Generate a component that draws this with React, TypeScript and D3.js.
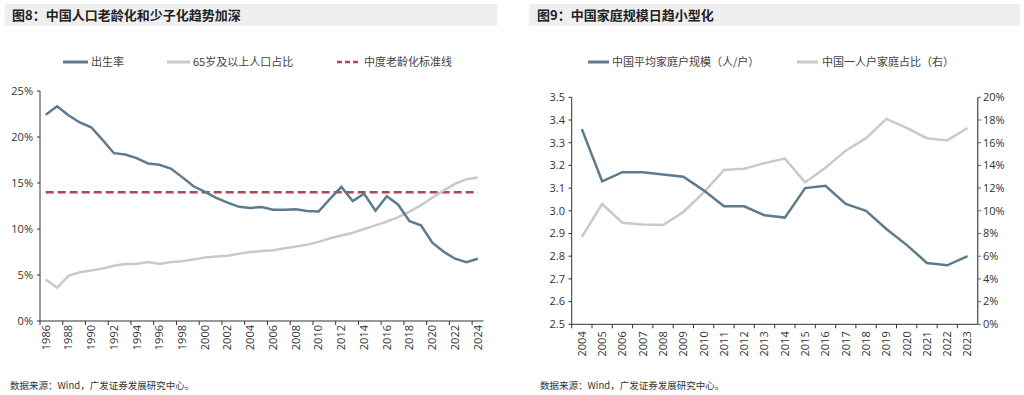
import React from "react";
import * as d3 from "d3";

// 图8 data
const years8 = [
  1986, 1987, 1988, 1989, 1990, 1991, 1992, 1993, 1994, 1995, 1996, 1997, 1998,
  1999, 2000, 2001, 2002, 2003, 2004, 2005, 2006, 2007, 2008, 2009, 2010, 2011,
  2012, 2013, 2014, 2015, 2016, 2017, 2018, 2019, 2020, 2021, 2022, 2023, 2024,
];
const birthRate = [
  22.43, 23.33, 22.37, 21.58, 21.06, 19.68, 18.24, 18.09, 17.7, 17.12, 16.98,
  16.57, 15.64, 14.64, 14.03, 13.38, 12.86, 12.41, 12.29, 12.4, 12.09, 12.1,
  12.14, 11.95, 11.9, 13.27, 14.57, 13.03, 13.83, 11.99, 13.57, 12.64, 10.86,
  10.41, 8.52, 7.52, 6.77, 6.39, 6.77,
];
const aged65 = [
  4.5, 3.6, 4.9, 5.3, 5.5, 5.7, 6.0, 6.2, 6.2, 6.4, 6.2, 6.4, 6.5, 6.7, 6.9,
  7.0, 7.1, 7.3, 7.5, 7.6, 7.7, 7.9, 8.1, 8.3, 8.6, 9.0, 9.3, 9.6, 10.0, 10.4,
  10.8, 11.3, 11.9, 12.6, 13.4, 14.2, 14.9, 15.4, 15.6,
];
const moderateAgingLine = 14;
const yTicks8 = [0, 5, 10, 15, 20, 25];

// 图9 data
const years9 = [
  2004, 2005, 2006, 2007, 2008, 2009, 2010, 2011, 2012, 2013, 2014, 2015, 2016,
  2017, 2018, 2019, 2020, 2021, 2022, 2023,
];
const householdSize = [
  3.36, 3.13, 3.17, 3.17, 3.16, 3.15, 3.09, 3.02, 3.02, 2.98, 2.97, 3.1, 3.11,
  3.03, 3.0, 2.92, 2.85, 2.77, 2.76, 2.8,
];
const singleShare = [
  7.7, 10.6, 8.95, 8.8, 8.75, 9.9, 11.6, 13.6, 13.7, 14.2, 14.6, 12.5, 13.8,
  15.3, 16.4, 18.1, 17.3, 16.4, 16.2, 17.3,
];
const leftTicks9 = [2.5, 2.6, 2.7, 2.8, 2.9, 3.0, 3.1, 3.2, 3.3, 3.4, 3.5];
const rightTicks9 = [0, 2, 4, 6, 8, 10, 12, 14, 16, 18, 20];

const BLUE = "#5E7B8E";
const GRAY = "#C9C9C9";
const RED = "#AE4656";
const AXIS = "#333";
const FONT = "'Open Sans', 'Noto Sans CJK SC', sans-serif";
const CJK = "'Noto Sans CJK SC', sans-serif";

const Chart8 = () => {
  const x = d3.scaleBand<number>().domain(years8).range([40, 483.5]);
  const y = d3.scaleLinear().domain([0, 25]).range([321, 91]);
  const cx = (d: number) => (x(d) ?? 0) + x.bandwidth() / 2;
  const line = d3
    .line<number>()
    .x((_, i) => cx(years8[i]))
    .y((d) => y(d));

  return (
    <g>
      <rect x={5} y={4} width={492} height={22} fill="#EFEFEF" />
      <text x={12} y={20} fontFamily={CJK} fontSize={13} fontWeight="bold" fill="#222">
        图8：中国人口老龄化和少子化趋势加深
      </text>

      {/* legend */}
      <g fontFamily={CJK} fontSize={11} fill="#444">
        <line x1={63} x2={88} y1={62} y2={62} stroke={BLUE} strokeWidth={3} />
        <text x={91} y={66}>出生率</text>
        <line x1={167} x2={190} y1={62} y2={62} stroke={GRAY} strokeWidth={3} />
        <text x={193} y={66}>65岁及以上人口占比</text>
        <line x1={337} x2={360} y1={62} y2={62} stroke={RED} strokeWidth={2.5} strokeDasharray="5 3" />
        <text x={364} y={66}>中度老龄化标准线</text>
      </g>

      {/* y axis */}
      <line x1={40} x2={40} y1={y(25)} y2={y(0)} stroke={AXIS} />
      {yTicks8.map((t) => (
        <g key={t}>
          <line x1={37} x2={40} y1={y(t)} y2={y(t)} stroke={AXIS} />
          <text x={33} y={y(t)} dy="0.35em" textAnchor="end" fontFamily={FONT} fontSize={11} fill="#333">
            {t}%
          </text>
        </g>
      ))}

      {/* x axis */}
      <line x1={40} x2={483.5} y1={y(0)} y2={y(0)} stroke={AXIS} />
      {years8.map((d, i) =>
        i % 2 === 0 ? (
          <g key={d}>
            <line x1={x(d)} x2={x(d)} y1={y(0)} y2={y(0) + 4} stroke={AXIS} />
            <text
              transform={`translate(${cx(d)},${y(0) + 4}) rotate(-90)`}
              dy="0.35em"
              textAnchor="end"
              fontFamily={FONT}
              fontSize={11}
              fill="#333"
            >
              {d}
            </text>
          </g>
        ) : null
      )}

      <line
        x1={cx(years8[0])}
        x2={cx(years8[years8.length - 1])}
        y1={y(moderateAgingLine)}
        y2={y(moderateAgingLine)}
        stroke={RED}
        strokeWidth={2.5}
        strokeDasharray="8 4"
      />
      <path d={line(aged65) ?? ""} fill="none" stroke={GRAY} strokeWidth={2.5} />
      <path d={line(birthRate) ?? ""} fill="none" stroke={BLUE} strokeWidth={2.5} />

      <text x={10} y={389} fontFamily={CJK} fontSize={9.5} fill="#333">
        数据来源：Wind，广发证券发展研究中心。
      </text>
    </g>
  );
};

const Chart9 = () => {
  const x = d3.scaleBand<number>().domain(years9).range([571.7, 977.7]);
  const yL = d3.scaleLinear().domain([2.5, 3.5]).range([324.3, 97.3]);
  const yR = d3.scaleLinear().domain([0, 20]).range([324.3, 97.3]);
  const cx = (d: number) => (x(d) ?? 0) + x.bandwidth() / 2;
  const lineL = d3
    .line<number>()
    .x((_, i) => cx(years9[i]))
    .y((d) => yL(d));
  const lineR = d3
    .line<number>()
    .x((_, i) => cx(years9[i]))
    .y((d) => yR(d));

  return (
    <g>
      <rect x={529} y={4} width={491} height={22} fill="#EFEFEF" />
      <text x={537} y={20} fontFamily={CJK} fontSize={13} fontWeight="bold" fill="#222">
        图9：中国家庭规模日趋小型化
      </text>

      <g fontFamily={CJK} fontSize={11} fill="#444">
        <line x1={588} x2={609} y1={62} y2={62} stroke={BLUE} strokeWidth={3} />
        <text x={612} y={66}>中国平均家庭户规模（人/户）</text>
        <line x1={797} x2={818} y1={62} y2={62} stroke={GRAY} strokeWidth={3} />
        <text x={822} y={66}>中国一人户家庭占比（右）</text>
      </g>

      {/* left axis */}
      <line x1={571.7} x2={571.7} y1={yL(3.5)} y2={yL(2.5)} stroke={AXIS} />
      {leftTicks9.map((t) => (
        <g key={t}>
          <line x1={568.5} x2={571.7} y1={yL(t)} y2={yL(t)} stroke={AXIS} />
          <text x={565} y={yL(t)} dy="0.35em" textAnchor="end" fontFamily={FONT} fontSize={11} fill="#333">
            {t.toFixed(1)}
          </text>
        </g>
      ))}

      {/* right axis */}
      <line x1={977.7} x2={977.7} y1={yR(20)} y2={yR(0)} stroke="#666" strokeWidth={1.5} />
      {rightTicks9.map((t) => (
        <g key={t}>
          <line x1={977.7} x2={981} y1={yR(t)} y2={yR(t)} stroke="#666" />
          <text x={983} y={yR(t)} dy="0.35em" fontFamily={FONT} fontSize={11} fill="#333">
            {t}%
          </text>
        </g>
      ))}

      {/* x axis */}
      <line x1={571.7} x2={977.7} y1={yL(2.5)} y2={yL(2.5)} stroke={AXIS} />
      {years9.map((d) => (
        <g key={d}>
          <line x1={x(d)} x2={x(d)} y1={yL(2.5)} y2={yL(2.5) + 4} stroke={AXIS} />
          <text
            transform={`translate(${cx(d)},${yL(2.5) + 7}) rotate(-90)`}
            dy="0.35em"
            textAnchor="end"
            fontFamily={FONT}
            fontSize={11}
            fill="#333"
          >
            {d}
          </text>
        </g>
      ))}

      <path d={lineR(singleShare) ?? ""} fill="none" stroke={GRAY} strokeWidth={2.5} />
      <path d={lineL(householdSize) ?? ""} fill="none" stroke={BLUE} strokeWidth={2.5} />

      <text x={540} y={389} fontFamily={CJK} fontSize={9.5} fill="#333">
        数据来源：Wind，广发证券发展研究中心。
      </text>
    </g>
  );
};

export default function App() {
  return (
    <svg
      width={1024}
      height={395}
      style={{ position: "absolute", left: 0, top: 0, background: "#fff" }}
    >
      <Chart8 />
      <Chart9 />
    </svg>
  );
}
